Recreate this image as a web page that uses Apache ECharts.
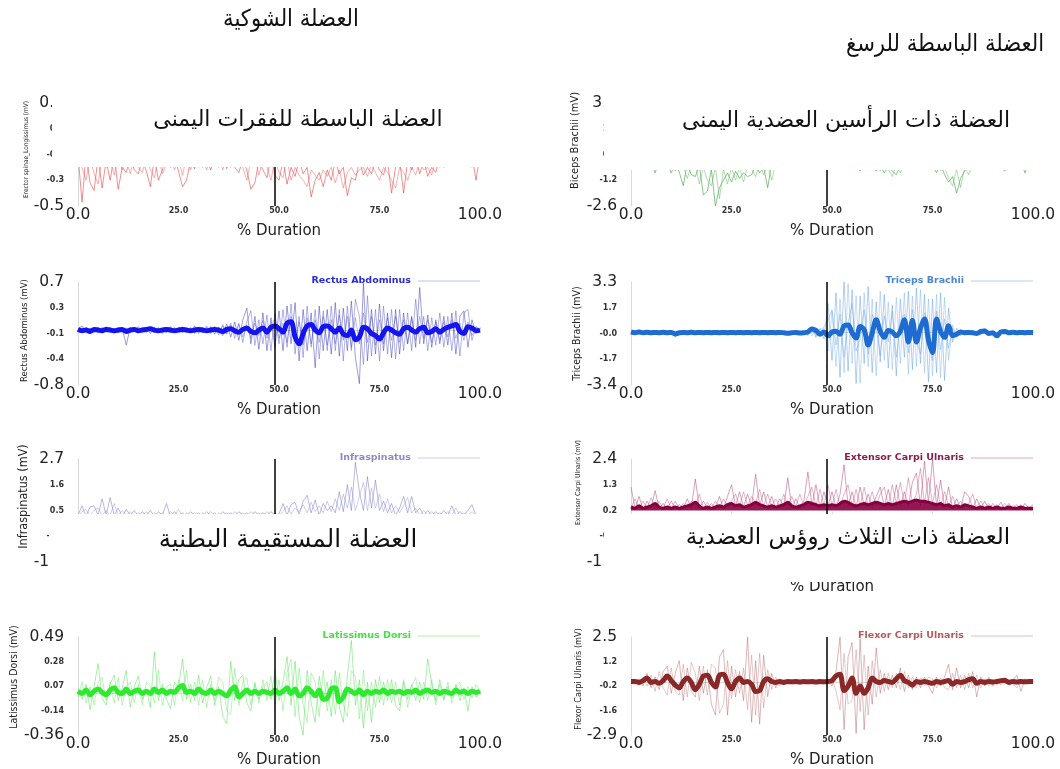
<!DOCTYPE html>
<html>
<head>
<meta charset="utf-8">
<script src="https://cdn.jsdelivr.net/npm/echarts@6.0.0/dist/echarts.min.js"></script>
<style>html,body{margin:0;padding:0;background:#fff}#chart{width:1060px;height:769px}</style>
</head>
<body>
<div id="chart"></div>
<script>
// ---------- DATA (one value per 1 % of duration, 0..100) ----------
const xTickLabels = ['0.0', '25.0', '50.0', '75.0', '100.0'];

// Erector spinae longissimus (mV)
const esTicks = ['0.3', '0.1', '-0.1', '-0.3', '-0.5'];
const esRaw1 = [
 -0.1,-0.47,-0.1,-0.32,-0.38,-0.12,-0.36,-0.15,-0.3,-0.1,
 -0.37,-0.2,-0.24,-0.12,-0.22,-0.25,-0.14,-0.23,-0.35,-0.12,
 -0.3,-0.22,-0.1,-0.2,-0.12,-0.23,-0.35,-0.3,-0.15,-0.21,
 -0.12,-0.2,-0.14,-0.22,-0.12,-0.2,-0.1,-0.21,-0.12,-0.2,
 -0.24,-0.14,-0.22,-0.37,-0.32,-0.15,-0.22,-0.28,-0.12,-0.26,
 -0.3,-0.15,-0.33,-0.2,-0.27,-0.14,-0.25,-0.2,-0.43,-0.3,
 -0.24,-0.35,-0.22,-0.3,-0.15,-0.25,-0.2,-0.42,-0.28,-0.3,
 -0.15,-0.26,-0.2,-0.25,-0.14,-0.22,-0.26,-0.15,-0.4,-0.2,
 -0.14,-0.4,-0.15,-0.22,-0.12,-0.25,-0.15,-0.27,-0.2,-0.24,
 -0.12,-0.2,-0.1,-0.15,-0.1,-0.12,-0.1,-0.12,-0.1,-0.3,
 -0.1];
const esRaw2 = [
 -0.12,-0.2,-0.3,-0.12,-0.25,-0.33,-0.12,-0.2,-0.14,-0.26,
 -0.12,-0.22,-0.14,-0.25,-0.12,-0.2,-0.24,-0.12,-0.22,-0.28,
 -0.12,-0.25,-0.18,-0.12,-0.22,-0.14,-0.26,-0.12,-0.22,-0.12,
 -0.2,-0.12,-0.22,-0.12,-0.18,-0.12,-0.22,-0.12,-0.2,-0.14,
 -0.12,-0.2,-0.3,-0.14,-0.12,-0.26,-0.14,-0.2,-0.3,-0.14,
 -0.24,-0.28,-0.14,-0.3,-0.2,-0.26,-0.3,-0.35,-0.22,-0.26,
 -0.3,-0.22,-0.27,-0.2,-0.32,-0.22,-0.36,-0.24,-0.2,-0.26,
 -0.22,-0.2,-0.27,-0.18,-0.24,-0.3,-0.2,-0.24,-0.3,-0.36,
 -0.2,-0.24,-0.3,-0.2,-0.26,-0.14,-0.22,-0.2,-0.26,-0.14,
 -0.2,-0.14,-0.12,-0.1,-0.14,-0.1,-0.12,-0.1,-0.2,-0.12,
 -0.1];

// Biceps brachii (mV)
const bbTicks = ['3.0', '1.6', '0.2', '-1.2', '-2.6'];
const bbRaw1 = [
 -0.2,-0.3,-0.2,-0.4,-0.2,-0.3,-0.8,-0.2,-0.4,-0.3,
 -0.8,-0.3,-0.75,-1.5,-0.3,-0.9,-1.0,-0.4,-2.0,-1.8,
 -0.6,-2.6,-1.6,-1.2,-0.8,-1.3,-0.7,-1.1,-0.8,-1.0,
 -0.9,-0.4,-0.8,-0.5,-1.6,-0.3,-0.4,-0.2,-0.3,-0.2,
 -0.3,-0.2,-0.3,-0.2,-0.3,-0.2,-0.3,-0.2,-0.3,-0.2,
 -0.3,-0.2,-0.3,-0.2,-0.3,-0.2,-0.5,-0.7,-0.3,-0.65,
 -0.3,-0.7,-0.4,-0.8,-0.5,-0.7,-0.9,-0.4,-0.3,-0.2,
 -0.3,-0.2,-0.3,-0.5,-0.3,-0.4,-0.8,-0.3,-0.9,-1.3,
 -1.0,-1.9,-1.1,-0.7,-0.4,-0.3,-0.2,-0.3,-0.2,-0.3,
 -0.2,-0.3,-0.5,-0.7,-0.3,-0.2,-0.3,-0.2,-0.8,-0.3,
 -0.2];
const bbRaw2 = [
 -0.3,-0.2,-0.3,-0.2,-0.3,-0.2,-0.3,-0.6,-0.3,-0.2,
 -0.3,-0.7,-0.3,-0.4,-1.1,-0.4,-0.3,-1.4,-0.5,-1.2,
 -1.5,-0.5,-2.2,-0.6,-1.4,-0.5,-1.2,-0.5,-1.3,-0.4,
 -0.6,-1.0,-0.3,-0.9,-0.4,-1.2,-0.3,-0.2,-0.3,-0.2,
 -0.2,-0.3,-0.2,-0.3,-0.2,-0.3,-0.2,-0.3,-0.2,-0.3,
 -0.2,-0.3,-0.2,-0.3,-0.2,-0.3,-0.2,-0.3,-0.6,-0.3,
 -0.6,-0.3,-0.7,-0.3,-0.6,-1.0,-0.4,-0.8,-0.3,-0.2,
 -0.2,-0.3,-0.2,-0.3,-0.2,-0.3,-0.4,-0.7,-0.5,-1.1,
 -1.5,-0.6,-1.6,-0.5,-0.9,-0.3,-0.2,-0.3,-0.2,-0.3,
 -0.3,-0.2,-0.3,-0.2,-0.6,-0.3,-0.2,-0.3,-0.2,-0.3,
 -0.3];

// Rectus abdominus (mV)
const raTicks = ['0.7', '0.3', '-0.1', '-0.4', '-0.8'];
const raRaw1 = [
 0.02,0.06,-0.03,0.03,-0.04,0.04,-0.02,0.05,-0.03,0.02,
 -0.04,0.03,-0.22,0.04,-0.03,0.05,-0.02,0.03,-0.05,0.04,
 -0.03,0.02,-0.04,0.05,-0.02,0.03,-0.04,0.02,-0.03,0.06,
 -0.05,0.04,-0.03,0.05,-0.06,0.04,-0.08,0.09,-0.1,0.12,
 -0.15,0.15,0.32,-0.2,0.2,-0.28,0.25,-0.3,0.18,-0.25,
 0.28,-0.3,0.35,-0.2,0.4,-0.45,0.3,-0.3,0.25,-0.55,
 0.35,-0.3,0.3,-0.35,0.4,-0.38,0.32,-0.3,0.42,-0.4,
 -0.78,0.68,-0.45,0.3,-0.35,0.38,-0.3,0.25,-0.4,0.3,
 -0.35,0.25,-0.2,0.2,-0.25,0.62,-0.2,0.22,-0.25,0.15,
 -0.2,0.2,-0.22,0.25,-0.35,0.2,0.28,-0.25,0.15,-0.05,
 0.02];
const raRaw2 = [
 -0.01,0.03,0.01,-0.04,0.03,-0.02,0.04,-0.03,0.02,-0.05,
 0.04,-0.02,0.03,-0.04,0.02,-0.03,0.04,-0.02,0.05,-0.04,
 0.03,-0.05,0.02,-0.03,0.04,-0.02,0.05,-0.03,0.04,-0.05,
 0.03,-0.04,0.06,-0.05,0.05,-0.07,0.08,-0.06,0.1,-0.12,
 0.1,-0.18,0.12,0.28,-0.22,0.15,-0.2,0.22,-0.3,0.25,
 -0.2,0.3,-0.25,0.38,-0.35,0.2,-0.4,0.35,-0.25,0.3,
 -0.42,0.28,-0.3,0.35,-0.3,0.3,-0.45,0.35,-0.3,0.45,
 0.2,-0.5,0.5,-0.38,0.3,-0.45,0.35,-0.35,0.3,-0.42,
 0.3,-0.3,0.25,-0.3,0.45,-0.2,0.2,-0.3,0.18,-0.22,
 0.25,-0.25,0.2,-0.3,0.28,-0.38,0.25,0.3,-0.15,0.05,
 0.0];
const raRaw3 = [
 0.03,-0.02,0.04,-0.03,0.02,-0.04,0.03,-0.02,0.04,-0.03,
 0.02,-0.04,0.03,-0.02,0.04,-0.03,0.02,-0.04,0.03,-0.02,
 0.04,-0.03,0.02,-0.04,0.03,-0.02,0.04,-0.03,0.02,-0.04,
 0.03,-0.02,0.04,-0.03,0.05,-0.04,0.06,-0.05,0.07,-0.06,
 0.08,-0.1,0.06,-0.12,0.1,-0.08,0.14,-0.12,0.1,0.15,
 -0.12,0.1,-0.18,0.2,-0.15,0.12,-0.22,0.18,-0.2,0.15,
 -0.18,0.2,-0.22,0.15,-0.2,0.22,-0.15,0.2,-0.25,0.18,
 -0.2,0.25,-0.18,0.2,-0.22,0.15,-0.2,0.18,-0.15,0.2,
 -0.18,0.15,-0.2,0.18,-0.15,0.2,-0.12,0.15,-0.18,0.12,
 -0.15,0.12,-0.1,0.15,-0.12,0.1,-0.15,0.12,-0.08,0.05,
 0.0];
const raMean = [
 0.01,-0.01,0.0,-0.02,0.01,0.0,-0.01,0.01,0.0,-0.01,
 0.0,0.01,-0.02,0.0,0.01,-0.01,0.0,0.01,0.02,0.0,
 -0.01,0.0,0.01,0.0,-0.01,0.0,0.01,0.0,-0.01,0.0,
 0.01,0.0,-0.01,0.0,0.01,0.0,-0.02,0.01,0.02,-0.01,
 -0.03,0.01,0.03,-0.02,-0.04,0.0,0.03,-0.03,0.04,0.06,
 0.02,-0.03,0.1,0.12,-0.1,-0.2,-0.05,0.06,0.08,0.0,
 -0.04,0.05,0.06,0.02,-0.03,0.03,-0.06,-0.08,0.0,-0.14,
 -0.1,0.04,0.02,-0.05,-0.08,-0.13,-0.04,0.03,0.0,-0.04,
 -0.06,0.02,0.04,0.0,-0.03,0.02,0.04,-0.04,-0.02,0.02,
 -0.03,0.01,0.04,0.06,0.08,-0.02,-0.05,0.05,0.03,-0.01,
 0.0];

// Triceps brachii (mV)
const tbTicks = ['3.3', '1.7', '-0.0', '-1.7', '-3.4'];
const tbRaw1 = [
 0.1,-0.1,0.2,-0.08,0.05,-0.1,0.12,-0.05,0.08,-0.12,
 0.1,-0.3,0.06,-0.05,0.08,-0.1,0.05,-0.06,0.08,-0.05,
 0.04,-0.06,0.05,-0.04,0.06,-0.05,0.04,-0.06,0.05,-0.04,
 0.06,-0.05,0.04,-0.06,0.05,-0.08,0.06,-0.05,0.08,-0.1,
 0.1,-0.08,0.12,-0.15,0.2,0.35,-0.3,0.25,-0.4,1.9,
 -1.8,2.6,-2.9,3.3,-2.5,2.8,-3.3,2.4,-2.0,3.0,
 -2.6,2.0,-1.9,2.5,-2.3,1.8,-2.8,2.2,-1.6,2.7,
 -2.4,2.9,-2.0,2.5,-3.2,2.2,-2.6,2.6,-3.1,1.6,
 -0.6,0.3,-0.2,0.15,-0.1,0.12,-0.15,0.1,0.3,-0.2,
 0.12,-0.3,0.15,-0.1,0.08,-0.1,0.06,-0.05,0.08,-0.05,
 0.02];
const tbRaw2 = [
 -0.05,0.15,-0.1,0.06,-0.12,0.08,-0.06,0.1,-0.08,0.05,
 -0.06,0.1,-0.08,0.06,-0.1,0.08,-0.06,0.05,-0.08,0.06,
 -0.05,0.07,-0.06,0.05,-0.07,0.06,-0.05,0.07,-0.06,0.05,
 -0.07,0.06,-0.08,0.07,-0.05,0.09,-0.07,0.08,-0.1,0.09,
 -0.12,0.1,-0.14,0.18,-0.2,0.4,-0.25,0.3,0.2,-1.2,
 1.4,-2.2,2.2,-2.6,3.2,-2.0,2.4,-3.3,2.6,-2.2,
 2.2,-2.8,2.7,-1.8,2.0,-2.4,2.3,-2.0,2.6,-2.7,
 2.4,-2.2,2.8,-2.6,2.2,-2.8,2.5,-2.9,2.3,-1.8,
 0.5,-0.3,0.2,-0.15,0.1,-0.12,0.1,-0.08,0.25,-0.15,
 0.1,-0.25,0.12,-0.08,0.06,-0.08,0.05,-0.04,0.05,-0.03,
 0.0];
const tbRaw3 = [
 0.08,-0.04,0.1,-0.06,0.04,-0.08,0.06,-0.04,0.05,-0.06,
 0.05,-0.1,0.04,-0.05,0.06,-0.04,0.05,-0.06,0.04,-0.05,
 0.06,-0.04,0.05,-0.06,0.04,-0.05,0.06,-0.04,0.05,-0.06,
 0.04,-0.05,0.06,-0.04,0.05,-0.06,0.04,-0.05,0.06,-0.07,
 0.08,-0.1,0.1,-0.12,0.15,-0.2,0.25,-0.2,0.4,0.8,
 1.5,-0.8,1.2,-1.6,0.6,1.9,-1.2,-0.4,1.5,-1.4,
 1.2,0.4,-1.5,1.1,-0.6,1.4,-1.6,0.8,1.2,-1.3,
 1.5,-0.5,-1.4,1.3,0.6,-1.8,1.4,-1.1,0.9,-1.0,
 0.3,-0.2,0.15,-0.1,0.12,-0.08,0.1,-0.12,0.15,-0.1,
 0.08,-0.15,0.1,-0.06,0.05,-0.06,0.04,-0.05,0.06,-0.04,
 0.02];
const tbMean = [
 0.05,0.0,0.05,0.0,0.03,0.0,0.02,0.0,0.03,0.0,
 0.02,-0.08,0.0,0.02,0.0,0.03,0.0,0.02,0.0,0.02,
 0.0,0.02,0.0,0.02,0.0,0.02,0.0,0.02,0.0,0.02,
 0.0,0.02,0.0,0.02,0.0,0.02,0.0,0.02,0.0,-0.03,
 0.0,0.02,-0.02,0.0,0.05,0.25,0.15,-0.1,0.05,-0.2,
 0.05,0.1,-0.1,0.45,0.5,0.0,-0.35,0.4,0.2,-0.8,
 0.0,0.85,0.1,-0.3,0.15,0.05,-0.2,0.1,0.85,-0.6,
 0.8,-0.6,0.3,0.9,-0.5,-1.3,0.9,0.1,-0.3,0.45,
 -0.2,-0.1,0.05,0.0,0.02,0.0,-0.05,0.08,0.12,-0.05,
 0.0,-0.2,0.05,0.08,0.0,0.03,0.0,0.02,0.0,0.02,
 0.02];

// Infraspinatus (mV)
const isTicks = ['2.7', '1.6', '0.5', '-0.6', '-1.7'];
const isRaw1 = [
 0.3,0.7,0.25,0.65,0.7,0.3,1.0,0.3,1.05,0.3,
 0.6,0.25,0.55,0.3,0.5,0.25,0.45,0.3,0.5,0.25,
 0.45,0.3,0.8,0.25,0.45,0.3,0.4,0.25,0.45,0.3,
 0.4,0.25,0.45,0.3,0.4,0.25,0.45,0.3,0.4,0.25,
 0.45,0.3,0.4,0.25,0.45,0.3,0.4,0.3,0.45,0.3,
 0.35,0.8,0.3,0.75,0.85,0.3,0.9,1.15,0.4,0.95,
 0.3,0.8,0.5,0.7,0.4,1.3,0.45,1.6,0.5,2.55,
 1.3,0.5,1.95,0.6,1.8,0.5,0.9,0.4,0.8,0.3,
 0.6,1.1,0.4,1.1,0.4,0.6,0.3,0.5,0.3,0.45,
 0.3,0.5,0.3,0.7,0.3,0.45,0.3,0.5,0.75,0.3,
 0.3];
const isRaw2 = [
 0.25,0.45,0.55,0.3,0.5,0.6,0.3,0.5,0.3,0.8,
 0.3,0.5,0.3,0.45,0.25,0.4,0.3,0.45,0.25,0.4,
 0.3,0.4,0.25,0.45,0.3,0.55,0.25,0.4,0.3,0.4,
 0.25,0.4,0.3,0.45,0.25,0.4,0.3,0.4,0.25,0.45,
 0.3,0.4,0.25,0.45,0.3,0.4,0.25,0.45,0.3,0.4,
 0.3,0.45,0.7,0.35,0.6,0.45,0.75,0.4,0.85,0.45,
 0.7,0.4,0.9,0.45,1.0,0.5,1.2,0.6,1.5,0.5,
 1.1,1.7,0.5,1.45,0.6,1.2,0.45,1.0,0.4,0.7,
 0.4,0.7,1.05,0.4,0.6,0.3,0.5,0.3,0.45,0.3,
 0.4,0.3,0.45,0.3,0.6,0.3,0.4,0.3,0.45,0.3,
 0.3];

// Extensor carpi ulnaris (mV)
const ecTicks = ['2.4', '1.3', '0.2', '-0.9', '-1.9'];
const ecRaw1 = [
 1.2,0.3,0.8,0.25,0.6,0.3,1.05,0.3,0.5,0.25,
 0.6,0.3,0.45,0.3,0.7,0.3,1.55,0.3,0.6,0.3,
 0.5,0.3,0.8,0.3,0.8,1.3,0.4,1.0,0.35,0.9,
 0.4,1.75,0.4,1.0,0.35,0.8,0.3,0.7,0.35,1.6,
 0.3,0.7,0.3,0.6,1.85,0.4,1.3,0.35,1.0,0.4,
 1.0,0.35,0.9,2.15,0.4,1.0,0.35,1.2,0.4,0.9,
 0.35,0.8,1.2,0.4,1.1,0.35,1.3,0.4,1.0,0.4,
 1.4,1.8,0.4,2.3,0.5,2.4,0.4,1.5,0.35,1.2,
 0.3,0.7,0.3,1.0,0.8,0.3,0.7,0.3,0.6,0.25,
 0.5,0.3,0.55,0.25,0.5,0.3,0.45,0.25,0.5,0.3,
 0.45];
const ecRaw2 = [
 0.3,0.7,0.3,0.6,0.3,0.75,0.3,0.6,0.3,0.7,
 0.3,0.6,0.3,0.5,0.3,0.6,0.4,0.9,0.3,0.55,
 0.3,0.6,0.3,0.7,0.4,0.6,0.9,0.4,1.0,0.4,
 0.8,0.5,1.1,0.4,0.9,0.4,0.7,0.35,0.9,0.4,
 0.8,0.35,0.9,0.4,0.8,1.2,0.4,1.1,0.4,1.3,
 0.4,1.1,0.4,0.9,1.3,0.4,1.1,0.4,1.2,0.4,
 1.0,0.4,0.9,1.2,0.4,1.3,0.5,1.4,0.5,1.6,
 0.5,0.9,2.0,0.5,1.6,0.5,1.3,0.4,1.0,0.4,
 0.8,0.35,0.6,0.4,0.5,0.9,0.3,0.6,0.3,0.5,
 0.3,0.45,0.3,0.5,0.3,0.4,0.3,0.45,0.3,0.35,
 0.3];
const ecMean = [
 0.35,0.3,0.4,0.3,0.35,0.4,0.5,0.35,0.3,0.35,
 0.3,0.35,0.3,0.35,0.4,0.45,0.55,0.4,0.3,0.35,
 0.3,0.35,0.4,0.35,0.45,0.5,0.4,0.45,0.35,0.4,
 0.45,0.55,0.45,0.4,0.35,0.4,0.35,0.4,0.45,0.55,
 0.4,0.35,0.4,0.45,0.55,0.5,0.45,0.4,0.45,0.4,
 0.45,0.4,0.5,0.6,0.55,0.45,0.4,0.45,0.5,0.45,
 0.5,0.55,0.5,0.45,0.5,0.45,0.5,0.55,0.6,0.55,
 0.6,0.65,0.6,0.6,0.55,0.5,0.45,0.5,0.4,0.45,
 0.35,0.4,0.35,0.45,0.4,0.35,0.3,0.35,0.3,0.35,
 0.3,0.35,0.3,0.3,0.35,0.3,0.3,0.35,0.3,0.3,
 0.3];

// Latissimus dorsi (mV)
const ldTicks = ['0.49', '0.28', '0.07', '-0.14', '-0.36'];
const ldRaw1 = [
 0.05,-0.05,0.08,-0.14,0.06,0.26,-0.04,-0.1,0.08,0.16,
 -0.06,0.05,0.2,-0.12,0.06,0.15,-0.05,0.04,-0.12,0.36,
 -0.06,0.08,-0.05,-0.13,0.1,0.05,0.3,-0.05,0.08,-0.06,
 0.16,-0.08,0.05,0.15,-0.1,0.06,-0.2,-0.26,0.28,-0.06,
 0.12,0.16,-0.08,-0.15,0.08,-0.05,0.06,0.1,-0.05,0.2,
 -0.06,0.1,0.32,-0.1,0.28,-0.2,-0.36,0.2,-0.08,-0.25,
 0.15,-0.06,0.1,-0.2,0.2,-0.12,-0.25,0.15,0.46,-0.1,
 0.12,-0.3,0.1,-0.25,0.12,-0.08,0.1,-0.06,0.12,-0.1,
 -0.15,0.1,-0.05,0.08,-0.06,0.1,-0.05,0.3,0.08,-0.06,
 0.12,-0.05,0.06,-0.04,0.08,-0.06,0.05,-0.15,0.06,-0.03,
 0.03];
const ldRaw2 = [
 -0.03,0.1,-0.08,0.06,-0.1,0.1,0.14,-0.06,0.1,-0.08,
 0.14,-0.1,0.06,0.1,-0.08,0.08,-0.1,0.1,0.06,-0.08,
 0.2,-0.1,0.06,0.08,-0.1,0.12,-0.06,0.2,-0.08,0.1,
 -0.1,0.12,-0.12,0.08,-0.06,0.14,0.1,-0.15,-0.18,0.22,
 -0.1,0.1,0.14,-0.1,0.1,-0.08,0.12,-0.06,0.15,-0.1,
 0.12,-0.15,0.18,0.3,-0.2,0.22,-0.1,-0.25,0.18,0.1,
 -0.2,0.2,-0.15,0.12,-0.18,0.18,-0.1,-0.2,0.2,0.15,
 -0.22,0.2,-0.15,0.1,-0.12,0.15,-0.1,0.12,-0.08,0.1,
 -0.1,0.12,-0.12,0.06,0.14,-0.08,0.1,-0.06,0.12,-0.1,
 0.08,-0.06,0.1,-0.08,0.06,0.1,-0.05,0.06,-0.04,0.08,
 0.02];
const ldMean = [
 0.02,0.0,0.03,-0.01,0.02,0.04,0.01,-0.01,0.03,0.05,
 0.01,0.0,0.04,0.0,0.02,0.03,0.0,0.02,0.0,0.04,
 0.01,0.03,0.0,0.02,0.01,0.05,0.07,0.01,0.02,0.0,
 0.04,0.01,0.0,0.03,0.0,0.02,0.0,-0.02,0.03,0.06,
 -0.03,0.0,0.03,0.0,0.02,0.0,0.02,0.01,0.0,0.03,
 0.0,0.02,0.05,0.0,0.04,-0.02,0.0,0.05,0.02,-0.02,
 0.03,-0.05,-0.04,0.04,0.05,-0.07,-0.03,0.04,0.02,0.0,
 0.03,-0.01,0.02,0.0,0.02,0.01,0.03,0.0,0.02,0.01,
 0.02,0.0,0.02,0.01,0.03,0.0,0.02,0.03,0.01,0.02,
 0.0,0.02,0.01,0.0,0.03,0.01,0.02,0.0,0.02,0.01,
 0.02];

// Flexor carpi ulnaris (mV)
const fcTicks = ['2.5', '1.2', '-0.2', '-1.6', '-2.9'];
const fcRaw1 = [
 0.1,-0.1,0.2,-0.2,0.5,-0.3,0.3,-0.4,0.6,0.9,
 -0.6,0.5,1.2,-1.0,0.8,-0.5,-0.8,0.9,-0.6,0.7,
 -1.2,-1.8,1.4,1.8,-1.8,0.9,-0.8,0.6,-1.0,2.5,
 -2.2,1.2,-2.3,1.5,-0.8,0.5,-0.3,0.2,-0.15,0.15,
 -0.1,0.15,-0.1,0.12,-0.1,0.12,-0.08,0.1,-0.1,0.12,
 -0.2,0.6,2.5,-2.6,1.4,2.2,-2.8,2.4,-2.6,0.9,
 -1.2,1.9,-0.6,0.5,-0.4,0.4,-0.3,0.8,-0.5,0.4,
 -0.4,0.3,-0.3,0.3,-0.2,-0.6,0.3,-0.2,0.3,1.0,
 -0.4,0.8,-0.3,0.4,-0.3,0.6,-0.8,0.3,-0.2,0.3,
 -0.2,0.2,-0.15,0.2,-0.1,0.15,0.4,-0.5,0.2,-0.1,
 0.05];
const fcRaw2 = [
 -0.05,0.2,-0.15,0.3,-0.2,0.4,-0.5,0.6,-0.3,-0.7,
 0.8,-0.5,-0.7,1.0,-0.8,1.1,0.5,-1.0,0.9,-0.7,
 1.0,0.8,-1.7,-1.2,1.2,-0.9,0.7,-0.6,0.8,-1.5,
 1.5,-1.8,1.6,-1.4,0.7,-0.4,0.3,-0.2,0.15,-0.12,
 0.1,-0.12,0.15,-0.1,0.1,-0.12,0.1,-0.12,0.12,-0.1,
 0.25,-0.5,-1.5,1.6,-1.2,-1.0,1.8,-1.6,1.5,-1.8,
 1.2,-0.8,0.7,-0.5,0.5,-0.3,0.5,-0.4,0.6,-0.3,
 0.3,-0.3,0.25,-0.2,0.3,0.2,-0.3,0.25,-0.3,-0.4,
 0.5,-0.3,0.4,-0.4,0.5,-0.3,0.4,-0.3,0.2,-0.2,
 0.15,-0.15,0.2,-0.1,0.15,-0.1,-0.3,0.2,-0.1,0.1,
 0.0];
const fcMean = [
 0.05,0.05,0.0,0.1,0.25,0.0,0.05,-0.05,0.1,0.35,
 0.1,-0.15,-0.3,0.05,0.25,0.0,-0.4,-0.1,0.35,0.4,
 0.0,-0.25,0.4,0.45,0.0,-0.35,0.05,0.25,0.0,0.05,
 -0.1,-0.5,-0.45,0.05,0.2,0.05,0.0,0.05,0.0,0.05,
 0.03,0.05,0.02,0.05,0.03,0.05,0.02,0.05,0.03,0.05,
 0.1,0.35,0.45,-0.45,-0.2,0.25,-0.6,-0.2,-0.6,-0.3,
 0.25,0.05,0.0,0.1,0.05,0.0,0.2,0.4,0.1,0.0,
 -0.15,0.05,0.0,0.05,0.0,-0.05,0.05,0.0,0.05,0.1,
 -0.1,0.05,0.0,0.05,0.15,0.2,-0.05,0.05,0.0,0.05,
 0.02,0.05,0.1,0.12,0.0,0.05,0.02,0.05,0.03,0.05,
 0.05];

// ---------- LAYOUT / STYLE ----------
const NARROW = "'Liberation Sans Narrow', 'DejaVu Sans Condensed', sans-serif";
const LEFT = 78, RIGHT = 631, TOPS = [103, 282, 459, 637], W = 402, H = 103;

const panels = [
  {label:'Erector spinae_Longissimus', left:LEFT, top:TOPS[0], min:-0.5, max:0.3, step:0.2, ticks:esTicks,
   yName:'Erector spinae_Longissimus (mV)', nameSize:6.5, nameGap:41, namePad:[0,0,0,10], marker:49,
   traces:[{v:esRaw1, c:'#e03a3a', w:0.8, o:0.7},{v:esRaw2, c:'#f05a5a', w:0.8, o:0.6}]},
  {label:'Biceps Brachii', left:RIGHT, top:TOPS[0], min:-2.6, max:3.0, step:1.4, ticks:bbTicks,
   yName:'Biceps Brachii (mV)', nameSize:11, nameGap:50, namePad:[0,0,0,28], marker:48.6,
   traces:[{v:bbRaw1, c:'#3c9c3c', w:0.8, o:0.75},{v:bbRaw2, c:'#5ab85a', w:0.8, o:0.6}]},
  {label:'Rectus Abdominus', left:LEFT, top:TOPS[1], min:-0.8, max:0.7, step:0.375, ticks:raTicks,
   yName:'Rectus Abdominus (mV)', nameSize:9.5, nameGap:45, namePad:[0,0,0,6], marker:49,
   traces:[{v:raRaw1, c:'#3030b0', w:0.8, o:0.6},{v:raRaw2, c:'#4444c4', w:0.8, o:0.5},{v:raRaw3, c:'#3a3ab8', w:0.7, o:0.5}],
   mean:{v:raMean, c:'#1414f0', w:5},
   legend:{text:'#2a2ad6', line:'#c0c0e8'}},
  {label:'Triceps Brachii', left:RIGHT, top:TOPS[1], min:-3.4, max:3.3, step:1.675, ticks:tbTicks,
   yName:'Triceps Brachii (mV)', nameSize:10.5, nameGap:48, namePad:[0,0,0,0], marker:48.6,
   traces:[{v:tbRaw1, c:'#5d9ce0', w:0.8, o:0.6},{v:tbRaw2, c:'#7ab0e6', w:0.8, o:0.55},{v:tbRaw3, c:'#6aa4e2', w:0.8, o:0.55}],
   mean:{v:tbMean, c:'#1e6cd2', w:5},
   legend:{text:'#4a86d4', line:'#b4d0ee'}},
  {label:'Infraspinatus', left:LEFT, top:TOPS[2], min:-1.7, max:2.7, step:1.1, ticks:isTicks,
   yName:'Infraspinatus (mV)', nameSize:12.5, nameGap:47, namePad:[0,0,0,28], marker:49,
   traces:[{v:isRaw1, c:'#6a6ac4', w:0.8, o:0.6},{v:isRaw2, c:'#8484d0', w:0.8, o:0.5}],
   legend:{text:'#8c8cc4', line:'#d0d0e4'}},
  {label:'Extensor Carpi Ulnaris', left:RIGHT, top:TOPS[2], min:-2.0, max:2.4, step:1.1, ticks:ecTicks,
   yName:'Extensor Carpi Ulnaris (mV)', nameSize:6.8, nameGap:49, namePad:[0,0,0,56], marker:48.6,
   traces:[{v:ecRaw1, c:'#b2386e', w:0.8, o:0.6},{v:ecRaw2, c:'#c0507e', w:0.8, o:0.55}],
   mean:{v:ecMean, c:'#860040', w:3, area:0.2},
   legend:{text:'#8c1c4c', line:'#dcaac0'}},
  {label:'Latissimus Dorsi', left:LEFT, top:TOPS[3], min:-0.36, max:0.49, step:0.2125, ticks:ldTicks,
   yName:'Latissimus Dorsi (mV)', nameSize:10.5, nameGap:56, namePad:[0,0,0,18], marker:49,
   traces:[{v:ldRaw1, c:'#4ede4e', w:0.8, o:0.6},{v:ldRaw2, c:'#66e666', w:0.8, o:0.55}],
   mean:{v:ldMean, c:'#2eea2e', w:5},
   legend:{text:'#46e046', line:'#b0f2b0'}},
  {label:'Flexor Carpi Ulnaris', left:RIGHT, top:TOPS[3], min:-2.9, max:2.5, step:1.35, ticks:fcTicks,
   yName:'Flexor Carpi Ulnaris (mV)', nameSize:9, nameGap:47, namePad:[0,0,0,14], marker:48.6,
   traces:[{v:fcRaw1, c:'#b05a5a', w:0.8, o:0.55},{v:fcRaw2, c:'#c07878', w:0.8, o:0.5}],
   mean:{v:fcMean, c:'#8a2828', w:5},
   legend:{text:'#b45a5a', line:'#e0c0c0'}}
];

const grids = [], xAxes = [], yAxes = [], series = [], legends = [];
const toPairs = arr => arr.map((v, i) => [i * 100 / (arr.length - 1), v]);
const bigLab = {fontFamily: 'DejaVu Sans', fontSize: 15.5, color: '#222'};
const smallLab = {fontFamily: 'DejaVu Sans', fontSize: 8, fontWeight: 'bold', color: '#333'};

panels.forEach((p, k) => {
  grids.push({left: p.left, top: p.top, width: W, height: H, containLabel: false});
  xAxes.push({
    gridIndex: k, type: 'value', min: 0, max: 100, interval: 25,
    axisLine: {show: true, lineStyle: {color: '#d9d9d9', width: 1}},
    axisTick: {show: true, inside: true, length: 3, lineStyle: {color: '#d9d9d9'}},
    splitLine: {show: false},
    axisLabel: {
      margin: 1, showMinLabel: true, showMaxLabel: true, hideOverlap: false,
      formatter: v => { const i = Math.round(v / 25); return (i === 0 || i === 4) ? '{b|' + xTickLabels[i] + '}' : '{s|' + xTickLabels[i] + '}'; },
      rich: {b: bigLab, s: smallLab}
    },
    name: '% Duration', nameLocation: 'middle', nameGap: 12,
    nameTextStyle: {fontFamily: 'DejaVu Sans', fontSize: 15, color: '#222'}
  });
  yAxes.push({
    gridIndex: k, type: 'value', min: p.min, max: p.max, interval: p.step,
    axisLine: {show: true, lineStyle: {color: '#d9d9d9', width: 1}},
    axisTick: {show: false}, splitLine: {show: false},
    axisLabel: {
      margin: 14, showMinLabel: true, showMaxLabel: true, hideOverlap: false,
      formatter: v => { const i = Math.round((v - p.min) / p.step); const t = p.ticks[4 - i]; return (i === 0 || i === 4) ? '{b|' + t + '}' : '{s|' + t + '}'; },
      rich: {b: bigLab, s: smallLab}
    },
    name: p.yName, nameLocation: 'middle', nameGap: p.nameGap,
    nameTextStyle: {fontFamily: NARROW, fontSize: p.nameSize, color: '#222', padding: p.namePad}
  });
  p.traces.forEach(t => {
    series.push({
      type: 'line', name: p.label, xAxisIndex: k, yAxisIndex: k, data: toPairs(t.v),
      symbol: 'none', showSymbol: false, silent: true, color: t.c, z: 2,
      lineStyle: {color: t.c, width: t.w, opacity: t.o}
    });
  });
  const markLine = {
    silent: true, symbol: ['none', 'none'], label: {show: false}, animation: false,
    lineStyle: {color: '#000', width: 1.5, type: 'solid'}, emphasis: {disabled: true},
    data: [{xAxis: p.marker}]
  };
  if (p.mean) {
    const s = {
      type: 'line', name: p.label, xAxisIndex: k, yAxisIndex: k, data: toPairs(p.mean.v),
      symbol: 'none', showSymbol: false, silent: true, smooth: 0.35, color: p.mean.c, z: 3,
      lineStyle: {color: p.mean.c, width: p.mean.w}, markLine: markLine
    };
    if (p.mean.area !== undefined) s.areaStyle = {color: p.mean.c, opacity: 0.9, origin: p.mean.area};
    series.push(s);
  } else {
    series[series.length - 1].markLine = markLine;
  }
  if (p.legend) {
    legends.push({
      data: [p.label], right: 1060 - (p.left + W), top: p.top - 6, padding: 0, itemGap: 0,
      align: 'right', icon: 'rect', itemWidth: 62, itemHeight: 1, selectedMode: false,
      itemStyle: {color: p.legend.line, borderWidth: 0},
      textStyle: {color: p.legend.text, fontFamily: 'DejaVu Sans', fontSize: 9.5, fontWeight: 'bold', padding: [0, 2, 0, 0]}
    });
  }
});

const AR = "'DejaVu Sans', sans-serif";
const ARC = "'DejaVu Sans Condensed', 'DejaVu Sans', sans-serif";
const graphic = [
  {type: 'rect', shape: {x: 52, y: 84, width: 510, height: 83}, style: {fill: '#fff'}, z: 100, silent: true},
  {type: 'rect', shape: {x: 604, y: 84, width: 456, height: 86}, style: {fill: '#fff'}, z: 100, silent: true},
  {type: 'rect', shape: {x: 49, y: 514, width: 513, height: 86}, style: {fill: '#fff'}, z: 100, silent: true},
  {type: 'rect', shape: {x: 604, y: 514, width: 456, height: 68}, style: {fill: '#fff'}, z: 100, silent: true},
  {type: 'text', x: 291, y: 20, z: 101, silent: true, style: {text: 'العضلة الشوكية', fontFamily: ARC, fontSize: 23.5, fill: '#111', align: 'center', verticalAlign: 'middle'}},
  {type: 'text', x: 945, y: 45, z: 101, silent: true, style: {text: 'العضلة الباسطة للرسغ', fontFamily: ARC, fontSize: 23.5, fill: '#111', align: 'center', verticalAlign: 'middle'}},
  {type: 'text', x: 298, y: 120, z: 101, silent: true, style: {text: 'العضلة الباسطة للفقرات اليمنى', fontFamily: AR, fontSize: 22, fill: '#111', align: 'center', verticalAlign: 'middle'}},
  {type: 'text', x: 846, y: 121, z: 101, silent: true, style: {text: 'العضلة ذات الرأسين العضدية اليمنى', fontFamily: AR, fontSize: 22, fill: '#111', align: 'center', verticalAlign: 'middle'}},
  {type: 'text', x: 288, y: 541, z: 101, silent: true, style: {text: 'العضلة المستقيمة البطنية', fontFamily: AR, fontSize: 24.5, fill: '#111', align: 'center', verticalAlign: 'middle'}},
  {type: 'text', x: 848, y: 538, z: 101, silent: true, style: {text: 'العضلة ذات الثلاث روؤس العضدية', fontFamily: AR, fontSize: 23, fill: '#111', align: 'center', verticalAlign: 'middle'}}
];

const chart = echarts.init(document.getElementById('chart'), null, {renderer: 'canvas'});
chart.setOption({
  animation: false,
  backgroundColor: '#fff',
  grid: grids, xAxis: xAxes, yAxis: yAxes, legend: legends, series: series, graphic: graphic
});
</script>
</body>
</html>
